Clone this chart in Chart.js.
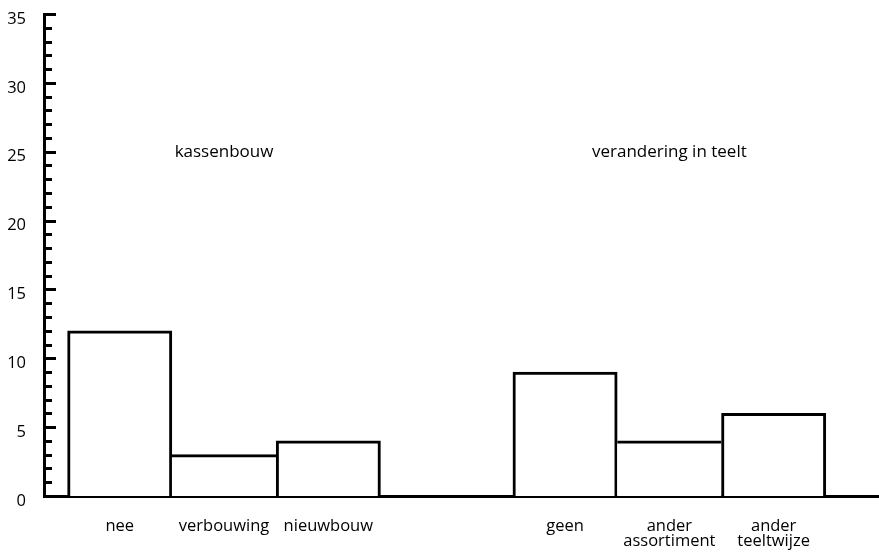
<!DOCTYPE html>
<html lang="nl">
<head>
    <meta charset="UTF-8" />
    <title>kassenbouw / verandering in teelt</title>
    <script src="https://cdn.jsdelivr.net/npm/chart.js"></script>
    <style>
        html, body { margin: 0; padding: 0; background: #fff; }
        #wrap { width: 879px; height: 556px; position: relative; }
    </style>
</head>
<body>
    <div id="wrap"><canvas id="barChart"></canvas></div>

    <script>
        // data
        const categories = ['nee', 'verbouwing', 'nieuwbouw', 'geen', 'ander assortiment', 'ander teeltwijze'];
        const values = [12, 3, 4, 9, 4, 6];
        const groupNames = ['kassenbouw', 'verandering in teelt'];
        const groupOf = [0, 0, 0, 1, 1, 1];
        const yTickLabels = [0, 5, 10, 15, 20, 25, 30, 35];
        const groupLabelAt = 25;

        // layout
        const groupGap = 1.27;      // extra empty slots between the two groups
        const font = '"Open Sans", "Noto Sans", sans-serif';
        const xPos = categories.map((c, i) => i + groupOf[i] * groupGap);

        const borderFor = (i) => {
            const same = (j) => j >= 0 && j < values.length && groupOf[j] === groupOf[i];
            const left = !same(i - 1) || values[i - 1] < values[i] ? 3 : 0;
            const right = !same(i + 1) || values[i + 1] <= values[i] ? 3 : 0;
            return { top: 3, left: left, right: right, bottom: 0 };
        };

        const axisMarks = {
            id: 'axisMarks',
            afterDraw(chart) {
                const { ctx, chartArea, scales: { x, y } } = chart;
                ctx.save();
                ctx.strokeStyle = '#000';
                ctx.lineWidth = 3;
                for (let v = y.min + 1; v <= y.max; v++) {
                    const py = Math.round(y.getPixelForValue(v)) + 0.5;
                    const len = v % 5 === 0 ? 12 : 8;
                    ctx.beginPath();
                    ctx.moveTo(chartArea.left, py);
                    ctx.lineTo(chartArea.left + len, py);
                    ctx.stroke();
                }
                ctx.fillStyle = '#000';
                ctx.font = '17px ' + font;
                ctx.textAlign = 'center';
                ctx.textBaseline = 'middle';
                groupNames.forEach((name, g) => {
                    const members = xPos.filter((p, i) => groupOf[i] === g);
                    const mid = (members[0] + members[members.length - 1]) / 2;
                    ctx.fillText(name, x.getPixelForValue(mid), y.getPixelForValue(groupLabelAt));
                });
                ctx.restore();
            }
        };

        new Chart(document.getElementById('barChart'), {
            type: 'bar',
            data: {
                datasets: [{
                    data: values.map((v, i) => ({ x: xPos[i], y: v })),
                    backgroundColor: '#fff',
                    borderColor: '#000',
                    borderWidth: (c) => borderFor(c.dataIndex),
                    borderSkipped: 'start',
                    barPercentage: 1,
                    categoryPercentage: 1
                }]
            },
            options: {
                responsive: true,
                maintainAspectRatio: false,
                animation: false,
                layout: { padding: 0 },
                plugins: { legend: { display: false }, tooltip: { enabled: false } },
                scales: {
                    x: {
                        type: 'linear',
                        min: -0.726,
                        max: 7.28,
                        offset: false,
                        bounds: 'data',
                        z: 1,
                        grid: { display: false, offset: false },
                        border: { display: true, color: '#000', width: 3 },
                        afterBuildTicks: (s) => { s.ticks = xPos.map(v => ({ value: v })); },
                        afterFit: (s) => { s.height = 60; s.paddingLeft = 0; s.paddingRight = 0; },
                        ticks: {
                            color: '#000',
                            padding: 15,
                            autoSkip: false,
                            maxRotation: 0,
                            font: { family: font, size: 16.5, lineHeight: 0.92 },
                            callback: (v, i) => categories[i].split(' ')
                        }
                    },
                    y: {
                        min: 0,
                        max: 35,
                        z: 1,
                        grid: { display: false },
                        border: { display: true, color: '#000', width: 3 },
                        afterBuildTicks: (s) => { s.ticks = yTickLabels.map(v => ({ value: v })); },
                        afterFit: (s) => { s.width = 44; s.paddingTop = 14; s.paddingBottom = 0; },
                        ticks: {
                            color: '#000',
                            padding: 10,
                            labelOffset: 5,
                            font: { family: font, size: 16.5 }
                        }
                    }
                }
            },
            plugins: [axisMarks]
        });
    </script>
</body>
</html>
